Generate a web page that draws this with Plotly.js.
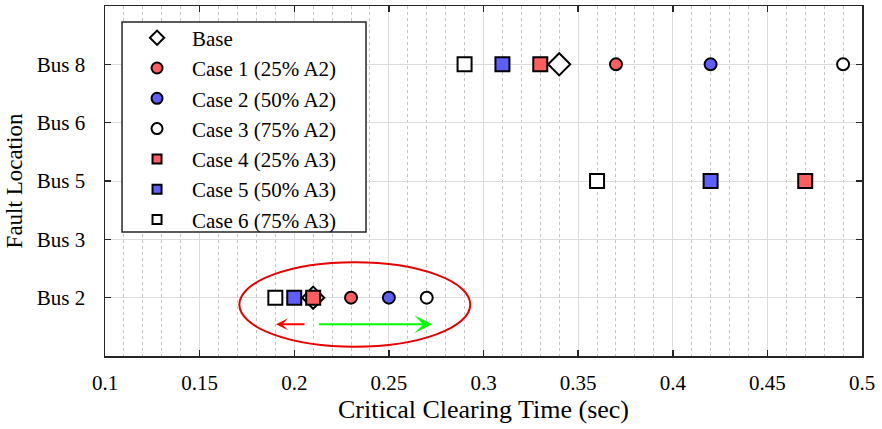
<!DOCTYPE html>
<html>
<head>
<meta charset="utf-8">
<script src="https://cdn.plot.ly/plotly-3.0.1.min.js"></script>
<style>html,body{margin:0;padding:0;background:#fff;}#chart{width:882px;height:429px;}</style>
</head>
<body>
<div id="chart"></div>
<script>
// Categories (bottom to top)
const buses = ['Bus 2', 'Bus 3', 'Bus 5', 'Bus 6', 'Bus 8'];
const xTicks = [0.1, 0.15, 0.2, 0.25, 0.3, 0.35, 0.4, 0.45, 0.5];
const xTickText = ['0.1', '0.15', '0.2', '0.25', '0.3', '0.35', '0.4', '0.45', '0.5'];

// Series
const seriesNames = ['Base', 'Case 1 (25% A2)', 'Case 2 (50% A2)', 'Case 3 (75% A2)',
                     'Case 4 (25% A3)', 'Case 5 (50% A3)', 'Case 6 (75% A3)'];
const baseBus = ['Bus 8', 'Bus 2'];
const baseCCT = [0.34, 0.21];
const case1Bus = ['Bus 8', 'Bus 2'];
const case1CCT = [0.37, 0.23];
const case2Bus = ['Bus 8', 'Bus 2'];
const case2CCT = [0.42, 0.25];
const case3Bus = ['Bus 8', 'Bus 2'];
const case3CCT = [0.49, 0.27];
const case4Bus = ['Bus 8', 'Bus 5', 'Bus 2'];
const case4CCT = [0.33, 0.47, 0.21];
const case5Bus = ['Bus 8', 'Bus 5', 'Bus 2'];
const case5CCT = [0.31, 0.42, 0.20];
const case6Bus = ['Bus 8', 'Bus 5', 'Bus 2'];
const case6CCT = [0.29, 0.36, 0.19];

const RED = '#FF5E5E', BLUE = '#5E5EFF', WHITE = '#FFFFFF', EDGE = '#000000';
const FONT = '"Liberation Serif", "Times New Roman", serif';

const styles = [
  {symbol: 'diamond', color: WHITE, size: 17, lsize: 11},
  {symbol: 'circle', color: RED, size: 12, lsize: 11},
  {symbol: 'circle', color: BLUE, size: 12, lsize: 11},
  {symbol: 'circle', color: WHITE, size: 12, lsize: 11},
  {symbol: 'square', color: RED, size: 14, lsize: 9},
  {symbol: 'square', color: BLUE, size: 14, lsize: 9},
  {symbol: 'square', color: WHITE, size: 14, lsize: 9}
];
const xs = [baseCCT, case1CCT, case2CCT, case3CCT, case4CCT, case5CCT, case6CCT];
const ys = [baseBus, case1Bus, case2Bus, case3Bus, case4Bus, case5Bus, case6Bus];

const data = [];
seriesNames.forEach((name, i) => {
  const s = styles[i];
  data.push({
    type: 'scatter', mode: 'markers', name: name, x: xs[i], y: ys[i], showlegend: false,
    marker: {symbol: s.symbol, size: s.size, color: s.color, line: {color: EDGE, width: 2}},
    cliponaxis: false
  });
});
// legend entries (smaller legend glyphs as in the reference)
seriesNames.forEach((name, i) => {
  const s = styles[i];
  data.push({
    type: 'scatter', mode: 'markers', name: name, x: [null], y: [null], showlegend: true,
    marker: {symbol: s.symbol, size: s.lsize, color: s.color, line: {color: EDGE, width: 2}}
  });
});

// Highlight ellipse and arrows (annotation geometry)
const ellipseX = [0.171, 0.293];
const ellipseY = [-0.841, 0.606];
const arrowY = -0.457;
const redArrow = {from: 0.2062, to: 0.1904};
const greenArrow = {from: 0.2122, to: 0.2729};
// legend frame (paper fractions)
const legendBox = {x0: 0.0225, x1: 0.3448, y0: 0.3543, y1: 0.9543};

const layout = {
  width: 882, height: 429,
  margin: {l: 105, r: 20, t: 6, b: 73, pad: 0},
  paper_bgcolor: '#fff', plot_bgcolor: '#fff',
  font: {family: FONT, color: '#000', size: 21},
  showlegend: true,
  legend: {
    x: 0.0225, y: 0.967, xanchor: 'left', yanchor: 'top',
    bgcolor: 'rgba(0,0,0,0)', borderwidth: 0,
    font: {family: FONT, size: 21, color: '#000'},
    itemwidth: 60, tracegroupgap: 0, traceorder: 'normal'
  },
  xaxis: {
    range: [0.1, 0.5], tickvals: xTicks, ticktext: xTickText,
    ticks: 'inside', ticklen: 6, tickwidth: 1.5, tickcolor: '#262626',
    showline: true, linecolor: '#262626', linewidth: 1.5, mirror: 'ticks',
    showgrid: true, gridcolor: '#dcdcdc', gridwidth: 1, zeroline: false,
    minor: {dtick: 0.01, showgrid: true, gridcolor: '#c4c4c4', griddash: 'dot', gridwidth: 1, ticks: ''},
    tickfont: {family: FONT, size: 21, color: '#000'},
    ticklabelstandoff: 7,
    title: {text: 'Critical Clearing Time (sec)', font: {family: FONT, size: 26, color: '#000'}, standoff: 4}
  },
  yaxis: {
    type: 'category', categoryarray: buses, categoryorder: 'array', range: [-1, 5],
    ticks: 'inside', ticklen: 6, tickwidth: 1.5, tickcolor: '#262626',
    showline: true, linecolor: '#262626', linewidth: 1.5, mirror: 'ticks',
    showgrid: true, gridcolor: '#dcdcdc', gridwidth: 1, zeroline: false,
    tickfont: {family: FONT, size: 21, color: '#000'},
    ticklabelstandoff: 14,
    title: {text: 'Fault Location', font: {family: FONT, size: 23, color: '#000'}, standoff: 8}
  },
  shapes: [
    {type: 'rect', xref: 'paper', yref: 'paper',
     x0: legendBox.x0, x1: legendBox.x1, y0: legendBox.y0, y1: legendBox.y1,
     line: {color: '#262626', width: 1.5}, fillcolor: '#ffffff', layer: 'above'},
    {type: 'circle', xref: 'x', yref: 'y',
     x0: ellipseX[0], x1: ellipseX[1], y0: ellipseY[0], y1: ellipseY[1],
     line: {color: '#E60000', width: 2}, fillcolor: 'rgba(0,0,0,0)', layer: 'above'}
  ],
  annotations: [
    {x: redArrow.to, y: arrowY, ax: redArrow.from, ay: arrowY, xref: 'x', yref: 'y', axref: 'x', ayref: 'y',
     text: '', showarrow: true, arrowhead: 3, arrowsize: 1, arrowwidth: 2, arrowcolor: '#FF0000', standoff: 0},
    {x: greenArrow.to, y: arrowY, ax: greenArrow.from, ay: arrowY, xref: 'x', yref: 'y', axref: 'x', ayref: 'y',
     text: '', showarrow: true, arrowhead: 3, arrowsize: 1.5, arrowwidth: 2, arrowcolor: '#00FF00', standoff: 0}
  ]
};

Plotly.newPlot('chart', data, layout, {staticPlot: true, displayModeBar: false});
</script>
</body>
</html>
